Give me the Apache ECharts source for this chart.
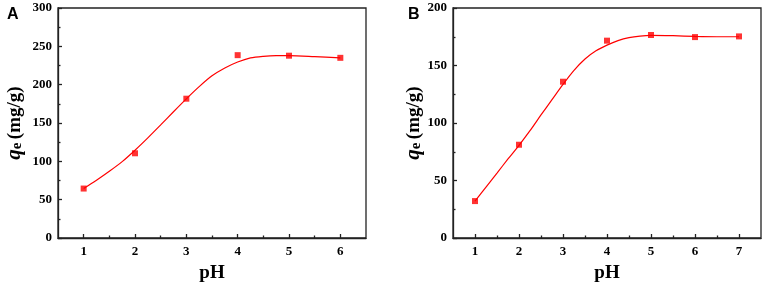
<!DOCTYPE html>
<html>
<head>
<meta charset="utf-8">
<script src="https://cdn.jsdelivr.net/npm/echarts@6/dist/echarts.min.js"></script>
<style>html,body{margin:0;padding:0;background:#fff}#c{width:765px;height:288px}</style>
</head>
<body>
<div id="c"></div>
<script>
// Panel A data
const phA = [1, 2, 3, 4, 5, 6];
const qeA = [64.5, 110.5, 181.7, 238.5, 237.8, 235];
const fitPhA = [1, 1.25, 1.5, 1.75, 2, 2.25, 2.5, 2.75, 3, 3.25, 3.5, 3.75, 4, 4.25, 4.5, 4.75, 5, 5.5, 6];
const fitQeA = [64.5, 75.3, 87, 99.6, 114.5, 130.6, 147.5, 164.7, 181.5, 197.4, 211.5, 221.7, 229.5, 234.9, 237, 237.8, 237.8, 236.6, 235];
// Panel B data
const phB = [1, 2, 3, 4, 5, 6, 7];
const qeB = [32.1, 81.1, 135.9, 171.6, 176.5, 174.7, 175.3];
const fitPhB = [1, 1.25, 1.5, 1.75, 2, 2.25, 2.5, 2.75, 3, 3.25, 3.5, 3.75, 4, 4.25, 4.5, 4.75, 5, 5.5, 6, 6.5, 7];
const fitQeB = [32.1, 44.3, 56.5, 68.7, 80.6, 93.3, 107, 120.3, 133.6, 145.8, 155.7, 162.8, 167.7, 171.6, 174.2, 175.6, 176.2, 175.9, 175.3, 175, 175];
// Tick values
const majorXA = [1, 2, 3, 4, 5, 6];
const minorXA = [1.5, 2.5, 3.5, 4.5, 5.5];
const majorXB = [1, 2, 3, 4, 5, 6, 7];
const minorXB = [1.5, 2.5, 3.5, 4.5, 5.5, 6.5];

const serif = '"Liberation Serif","Times New Roman",serif';
const lineCol = '#222';
const zip = (a, b) => a.map((v, i) => [v, b[i]]);

function xAxes(grid, min, max, major, minor) {
  return [
    {
      type: 'value', gridIndex: grid, min: min, max: max,
      axisLine: {show: true, lineStyle: {color: lineCol, width: 1.3}},
      axisTick: {show: true, inside: true, length: 4, customValues: major, lineStyle: {color: lineCol, width: 1.3}},
      axisLabel: {customValues: major, color: '#000', fontFamily: serif, fontWeight: 'bold', fontSize: 13, margin: 7},
      splitLine: {show: false},
      name: 'pH', nameLocation: 'middle', nameGap: 26,
      nameTextStyle: {color: '#000', fontFamily: serif, fontWeight: 'bold', fontSize: 19}
    },
    {
      type: 'value', gridIndex: grid, min: min, max: max, position: 'bottom',
      axisLine: {show: false},
      axisTick: {show: true, inside: true, length: 2.5, customValues: minor, lineStyle: {color: lineCol, width: 1.3}},
      axisLabel: {show: false},
      splitLine: {show: false}
    }
  ];
}
function yAxis(grid, max, gap) {
  return {
    type: 'value', gridIndex: grid, min: 0, max: max, interval: 50,
    axisLine: {show: true, lineStyle: {color: lineCol, width: 1.3}},
    axisTick: {show: true, inside: true, length: 4, lineStyle: {color: lineCol, width: 1.3}},
    minorTick: {show: true, splitNumber: 2, length: 2.5, lineStyle: {color: lineCol, width: 1.3}},
    axisLabel: {color: '#000', fontFamily: serif, fontWeight: 'bold', fontSize: 13, margin: 6},
    splitLine: {show: false},
    name: '{q|q}{e|e} {u|(mg/g)}', nameLocation: 'middle', nameGap: gap,
    nameTextStyle: {
      color: '#000',
      rich: {
        q: {fontFamily: serif, fontWeight: 'bold', fontStyle: 'italic', fontSize: 21, color: '#000', verticalAlign: 'bottom', lineHeight: 24},
        e: {fontFamily: serif, fontWeight: 'bold', fontSize: 15, color: '#000', verticalAlign: 'bottom', lineHeight: 18},
        u: {fontFamily: serif, fontWeight: 'bold', fontSize: 19, color: '#000', verticalAlign: 'bottom', lineHeight: 24}
      }
    }
  };
}

const chart = echarts.init(document.getElementById('c'), null, {renderer: 'canvas'});
chart.setOption({
  animation: false,
  backgroundColor: '#fff',
  title: [
    {text: 'A', left: 2, top: 2, textStyle: {fontFamily: '"Liberation Sans",Arial,sans-serif', fontWeight: 'bold', fontSize: 16, color: '#000'}},
    {text: 'B', left: 403, top: 2, textStyle: {fontFamily: '"Liberation Sans",Arial,sans-serif', fontWeight: 'bold', fontSize: 16, color: '#000'}}
  ],
  grid: [
    {left: 58, top: 8, width: 308, height: 235, show: true, borderColor: lineCol, borderWidth: 1.3, backgroundColor: 'transparent'},
    {left: 453, top: 8, width: 308, height: 235, show: true, borderColor: lineCol, borderWidth: 1.3, backgroundColor: 'transparent'}
  ],
  xAxis: [].concat(xAxes(0, 0.5, 6.5, majorXA, minorXA), xAxes(1, 0.5, 7.5, majorXB, minorXB)),
  yAxis: [yAxis(0, 300, 33), yAxis(1, 200, 22)],
  series: [
    {type: 'line', xAxisIndex: 0, yAxisIndex: 0, data: zip(fitPhA, fitQeA), smooth: 0.3, showSymbol: false, symbol: 'none',
      lineStyle: {color: '#ff0000', width: 1.2}},
    {type: 'scatter', xAxisIndex: 0, yAxisIndex: 0, data: zip(phA, qeA), symbol: 'rect', symbolSize: 6,
      itemStyle: {color: '#ff0000'}},
    {type: 'line', xAxisIndex: 2, yAxisIndex: 1, data: zip(fitPhB, fitQeB), smooth: 0.3, showSymbol: false, symbol: 'none',
      lineStyle: {color: '#ff0000', width: 1.2}},
    {type: 'scatter', xAxisIndex: 2, yAxisIndex: 1, data: zip(phB, qeB), symbol: 'rect', symbolSize: 6,
      itemStyle: {color: '#ff0000'}}
  ]
});
</script>
</body>
</html>
